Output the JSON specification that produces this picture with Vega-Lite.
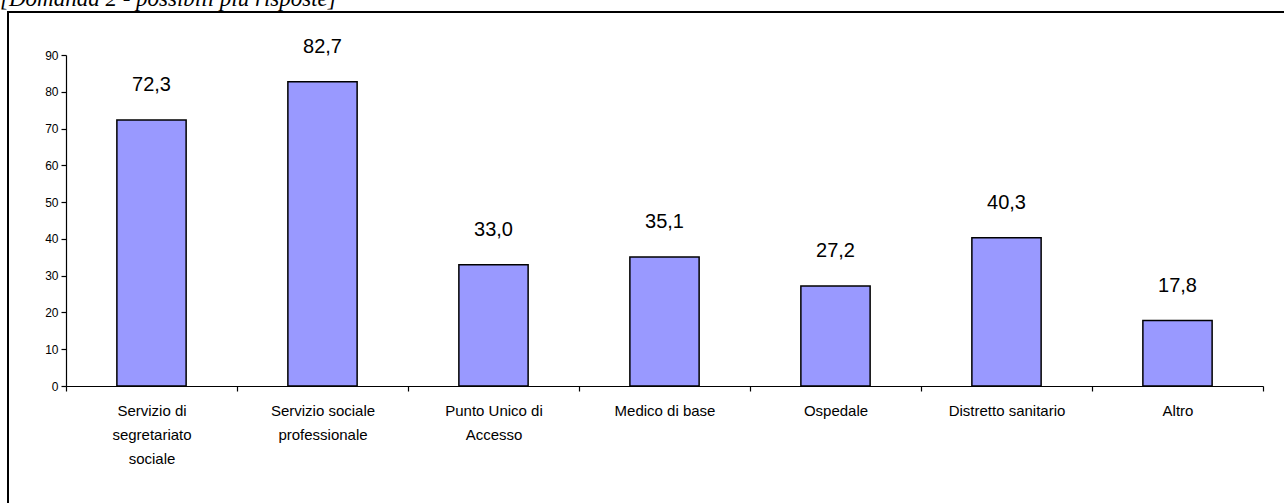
{
  "$schema": "https://vega.github.io/schema/vega-lite/v6.json",
  "autosize": {"type": "none"},
  "padding": {"left": 8, "top": 12, "right": 0, "bottom": 0},
  "width": 1320,
  "height": 520,
  "background": "white",
  "title": {
    "text": "[Domanda 2 - possibili più risposte]",
    "font": "Liberation Serif",
    "fontStyle": "italic",
    "fontWeight": "normal",
    "fontSize": 23,
    "color": "black",
    "anchor": "start",
    "frame": "group",
    "baseline": "alphabetic",
    "offset": 2,
    "dx": -8,
    "dy": 19
  },
  "config": {
    "locale": {"number": {"decimal": ",", "thousands": ".", "grouping": [3], "currency": ["€", ""]}},
    "view": {"stroke": "black", "strokeWidth": 2},
    "axis": {"grid": false, "domainColor": "black", "tickColor": "black", "labelColor": "black", "labelFont": "Liberation Sans", "titleFont": "Liberation Sans"}
  },
  "data": {
    "values": [
      {"cat": "Servizio di segretariato sociale", "value": 72.3},
      {"cat": "Servizio sociale professionale", "value": 82.7},
      {"cat": "Punto Unico di Accesso", "value": 33.0},
      {"cat": "Medico di base", "value": 35.1},
      {"cat": "Ospedale", "value": 27.2},
      {"cat": "Distretto sanitario", "value": 40.3},
      {"cat": "Altro", "value": 17.8}
    ]
  },
  "encoding": {
    "x": {
      "field": "cat",
      "type": "nominal",
      "sort": null,
      "title": null,
      "scale": {"range": [58, 1255], "paddingInner": 0, "paddingOuter": 0},
      "axis": {
        "orient": "bottom",
        "offset": -146,
        "labelAngle": 0,
        "labelFontSize": 15,
        "labelLineHeight": 24,
        "labelPadding": 12,
        "labelBaseline": "top",
        "tickBand": "extent",
        "tickSize": 5,
        "domainWidth": 1.2,
        "tickWidth": 1.2,
        "labelLimit": 0,
        "labelExpr": "datum.label == 'Servizio di segretariato sociale' ? ['Servizio di', 'segretariato', 'sociale'] : datum.label == 'Servizio sociale professionale' ? ['Servizio sociale', 'professionale'] : datum.label == 'Punto Unico di Accesso' ? ['Punto Unico di', 'Accesso'] : datum.label"
      }
    },
    "y": {
      "field": "value",
      "type": "quantitative",
      "title": null,
      "scale": {"domain": [0, 90], "range": [374, 43], "nice": false, "zero": true},
      "axis": {
        "orient": "left",
        "offset": -58,
        "values": [0, 10, 20, 30, 40, 50, 60, 70, 80, 90],
        "labelFontSize": 12,
        "labelPadding": 3,
        "tickSize": 5,
        "domainWidth": 1.2,
        "tickWidth": 1.2
      }
    }
  },
  "layer": [
    {
      "mark": {"type": "bar", "fill": "#9999FF", "stroke": "black", "strokeWidth": 1.5, "width": {"band": 0.405}}
    },
    {
      "mark": {"type": "text", "font": "Liberation Sans", "fontSize": 20, "color": "black", "baseline": "middle", "dy": -35},
      "encoding": {"text": {"field": "value", "type": "quantitative", "format": ".1f"}}
    }
  ]
}
